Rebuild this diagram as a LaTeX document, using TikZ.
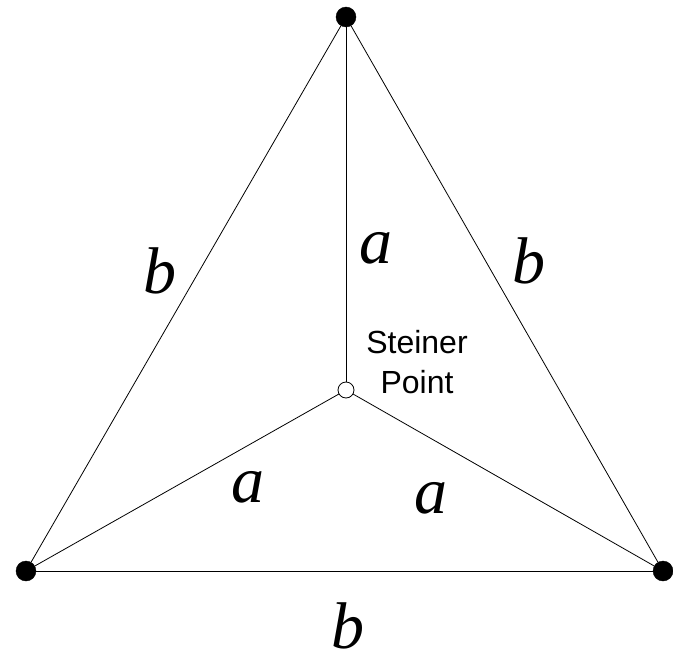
\documentclass[tikz,border=0pt]{standalone}
\usepackage{fontspec}
\setmainfont{Liberation Serif}
\setsansfont{Liberation Sans}
\usepackage{xcolor}
\usetikzlibrary{positioning}
\tikzset{
  every node/.style={font=\sffamily},
  vtx/.style={circle,fill=black,draw=black,inner sep=0pt,minimum size=20pt},
  stp/.style={circle,fill=white,draw=black,line width=0.8pt,inner sep=0pt,minimum size=16pt},
  seg/.style={draw=black,line width=0.8pt},
  len/.style={font=\fontsize{66}{66}\selectfont\itshape\rmfamily,anchor=base,inner sep=0pt,text depth=0pt},
  ptlabel/.style={font=\fontsize{32}{40}\selectfont\sffamily,align=center,anchor=base,inner sep=0pt},
}

\begin{document}
\begin{tikzpicture}[x=1pt,y=-1pt]
\useasboundingbox (0,0) rectangle (673,653);
\node[vtx] (pA) at (346,17) {};
\node[vtx] (pB) at (26,571) {};
\node[vtx] (pC) at (663,571) {};
\node[stp] (st) at (346,390) {};
% triangle and spokes
\draw[seg] (pA) -- (pB);
\draw[seg] (pA) -- (pC);
\draw[seg] (pB) -- (pC);
\draw[seg] (st) -- (pA);
\draw[seg] (st) -- (pB);
\draw[seg] (st) -- (pC);
% edge lengths
\node[len] (la) at (376,263) {a};
\node[len] (lab) at (160,293) {b};
\node[len] (lcb) at (529,283) {b};
\node[len] (lba) at (248,502) {a};
\node[len] (lca) at (431,513) {a};
\node[len] (lbc) at (348,648) {b};
\node[ptlabel] (name) at (417,393) {Steiner\\Point};
\end{tikzpicture}
\end{document}
